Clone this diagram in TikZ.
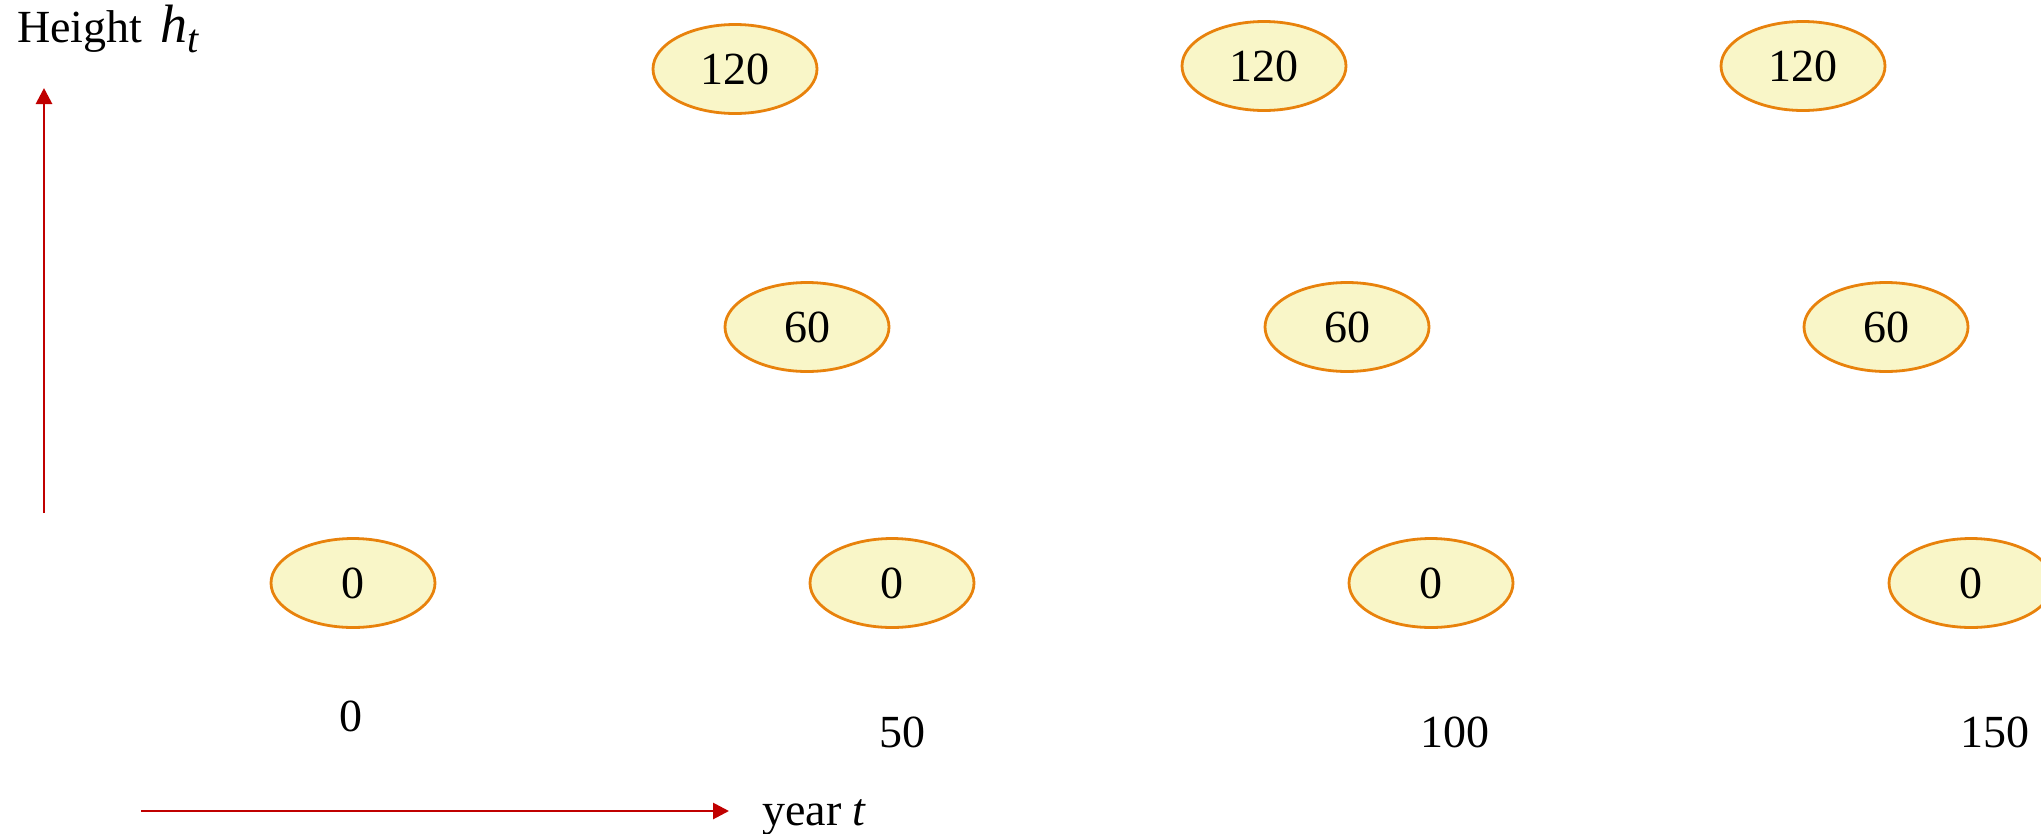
\documentclass[tikz,border=0pt]{standalone}
\usepackage{fontspec}
\setmainfont{Liberation Serif}
\usetikzlibrary{shapes.geometric,arrows.meta}
\definecolor{axisred}{HTML}{C00000}
\definecolor{nodefill}{HTML}{F9F6C8}
\definecolor{nodeborder}{HTML}{E8820C}
\newcommand{\bigtext}{\fontsize{46}{55}\selectfont}
\newcommand{\htext}{\fontsize{54}{60}\selectfont}
\newcommand{\subtext}{\fontsize{40}{46}\selectfont}
\tikzset{
  valnode/.style={ellipse, draw=nodeborder, fill=nodefill, line width=2.8pt,
    minimum width=164pt, minimum height=89pt, inner sep=0pt,
    font=\bigtext},
  lab/.style={font=\bigtext, inner sep=0pt},
  axis/.style={draw=axisred, line width=2.8pt, -{Triangle[length=16pt,width=16pt]}}
}
\begin{document}
\begin{tikzpicture}[x=1pt,y=-1pt]
\useasboundingbox (0,0) rectangle (2041,833);
\clip (0,0) rectangle (2041,833);
% axes
\coordinate (vs) at (44,513);
\coordinate (ve) at (44,88);
\coordinate (hs) at (141,811);
\coordinate (he) at (729,811);
\draw[axis] (vs) -- (ve);
\draw[axis] (hs) -- (he);
\node[lab, anchor=base west] (ylab) at (17,42) {Height\hspace{18pt}{\htext\textit{h}}\raisebox{-10pt}{\subtext\textit{t}}};
\node[lab, anchor=base west] (xlab) at (762,825) {year \textit{t}};
% top row
\node[valnode] (a1) at (735,69) {120};
\node[valnode] (a2) at (1264,66) {120};
\node[valnode] (a3) at (1803,66) {120};
% middle row
\node[valnode] (b1) at (807,327) {60};
\node[valnode] (b2) at (1347,327) {60};
\node[valnode] (b3) at (1886,327) {60};
% bottom row
\node[valnode] (c1) at (353,583) {0};
\node[valnode] (c2) at (892,583) {0};
\node[valnode] (c3) at (1431,583) {0};
\node[valnode] (c4) at (1971,583) {0};
% time labels
\node[lab] (t0) at (351,716) {0};
\node[lab] (t1) at (902,732) {50};
\node[lab] (t2) at (1455,732) {100};
\node[lab] (t3) at (1995,732) {150};
\end{tikzpicture}
\end{document}
